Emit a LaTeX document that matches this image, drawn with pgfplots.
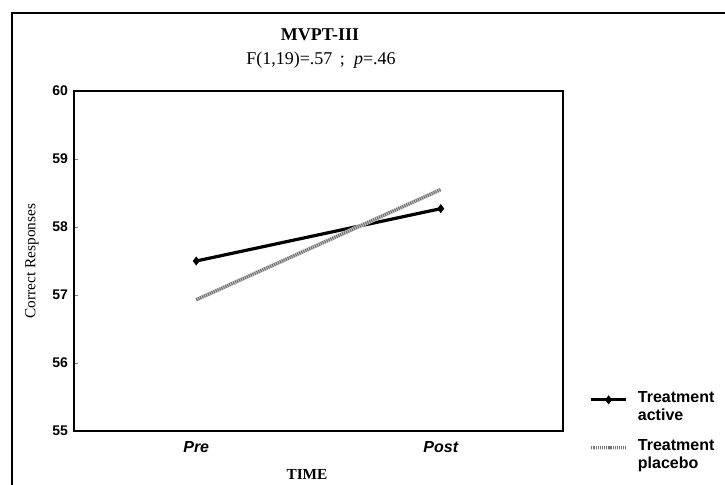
\documentclass[border=0pt]{standalone}
\usepackage{fontspec}
\setmainfont{Liberation Serif}
\setsansfont{Liberation Sans}
\usepackage{pgfplots}
\pgfplotsset{compat=1.18}
\begin{document}
\begin{tikzpicture}[x=0.75pt,y=0.75pt]
\useasboundingbox (0,0) rectangle (725,485);
\draw[line width=0.9pt] (12,0) -- (12,472) -- (725,472);
\begin{axis}[
  at={(55.5pt,40.5pt)}, anchor=south west,
  width=366.75pt, height=255pt, scale only axis,
  xmin=0.5, xmax=2.5, ymin=55, ymax=60,
  xtick={1,2}, xticklabels={Pre,Post},
  ytick={55,56,57,58,59,60},
  ytick pos=left, tick align=inside, major tick length=3pt,
  xtick style={draw=none},
  axis line style={line width=1pt},
  /pgf/number format/assume math mode=true,
  yticklabel style={font=\sffamily\bfseries\fontsize{10.5}{12}\selectfont, xshift=-1pt},
  xticklabel style={font=\sffamily\bfseries\itshape\fontsize{12}{13}\selectfont, yshift=-4pt},
  legend style={at={(1.045,0.0)}, anchor=west, draw=none, fill=none,
    font=\sffamily\bfseries\fontsize{12}{14}\selectfont, row sep=10pt,
    nodes={align=left, inner sep=1pt}},
  legend cell align=left,
  legend image code/.code={\path[draw=none,fill=none] (0pt,-5.5pt) rectangle (34pt,5.5pt);
    \draw[#1, mark repeat=2, mark phase=2] plot coordinates {(0pt,5.5pt) (13pt,5.5pt) (26pt,5.5pt)};},
]
\addplot[black, line width=2.4pt, mark=diamond*, mark size=3pt,
  mark options={line width=0.5pt}] coordinates {(1,57.5) (2,58.27)};
\addlegendentry{Treatment\\active}
\addplot[gray!35, line width=3pt, forget plot] coordinates {(1,56.93) (2,58.55)};
\addplot[black!55, line width=2.4pt, dash pattern=on 0.9pt off 0.7pt,
  legend image code/.code={\path[draw=none,fill=none] (0pt,-5.5pt) rectangle (34pt,5.5pt);
    \draw[gray!35, line width=3pt] (0pt,5.5pt) -- (26pt,5.5pt);
    \draw[black!55, line width=2.4pt, dash pattern=on 0.9pt off 0.7pt] (0pt,5.5pt) -- (26pt,5.5pt);}] coordinates {(1,56.93) (2,58.55)};
\addlegendentry{Treatment\\placebo}
\end{axis}
\node[font=\bfseries\fontsize{13.5}{15}\selectfont] at (320,450) {MVPT-III};
\node[font=\fontsize{13.5}{15}\selectfont] at (321,425) {F(1,19)=.57\,\ ;\ \ \textit{p}=.46};
\node[rotate=90, font=\fontsize{11.5}{13}\selectfont] at (32,224) {Correct Responses};
\node[font=\bfseries\fontsize{11.5}{13}\selectfont] at (307,11) {TIME};
\end{tikzpicture}
\end{document}
